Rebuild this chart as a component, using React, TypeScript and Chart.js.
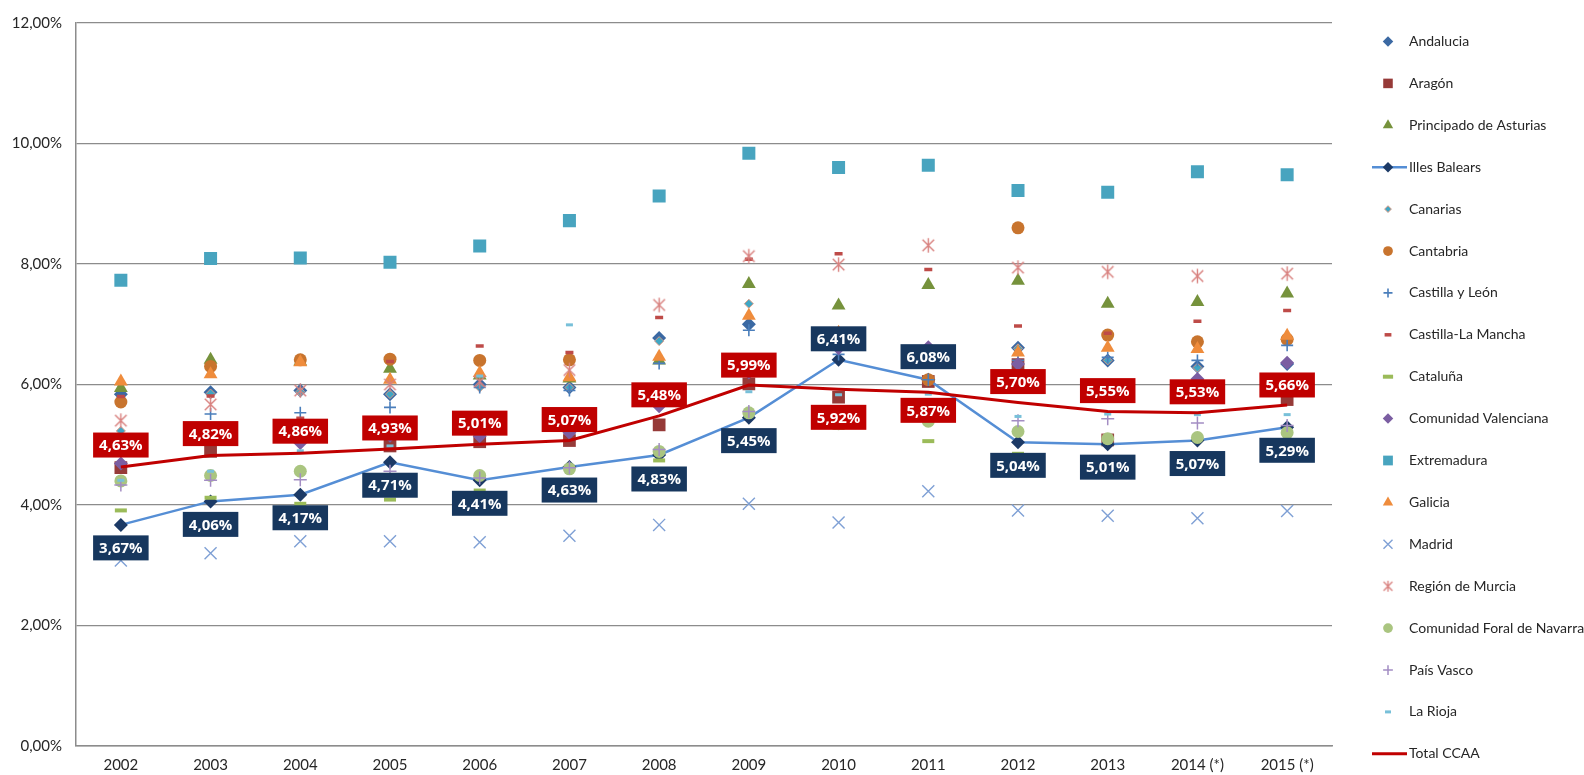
import { useEffect, useRef } from 'react';
import { Chart, registerables } from 'chart.js';
import { drawPoint } from 'chart.js/helpers';

Chart.register(...registerables);

const years = ['2002', '2003', '2004', '2005', '2006', '2007', '2008', '2009', '2010', '2011', '2012', '2013', '2014 (*)', '2015 (*)'];

const andalucia = [5.84, 5.87, 5.90, 5.84, 6.00, 5.95, 6.77, 7.00, 6.75, 6.50, 6.61, 6.40, 6.30, 6.34];
const aragon = [4.62, 4.89, 5.20, 4.98, 5.05, 5.07, 5.33, 6.01, 5.79, 6.05, 6.33, 5.08, 5.85, 5.75];
const asturias = [5.94, 6.41, 6.38, 6.26, 6.15, 6.10, 6.40, 7.67, 7.31, 7.65, 7.72, 7.34, 7.37, 7.51];
const baleares = [3.67, 4.06, 4.17, 4.71, 4.41, 4.63, 4.83, 5.45, 6.41, 6.08, 5.04, 5.01, 5.07, 5.29];
const canarias = [5.23, 5.85, 5.88, 5.84, 5.95, 5.95, 6.72, 7.34, 6.70, 6.40, 6.60, 6.40, 6.28, 6.34];
const cantabria = [5.71, 6.30, 6.41, 6.42, 6.40, 6.41, 5.85, 6.30, 6.70, 6.08, 8.60, 6.82, 6.71, 6.75];
const castillaLeon = [5.00, 5.51, 5.53, 5.62, 5.95, 5.90, 6.35, 6.90, 6.50, 6.08, 6.40, 6.45, 6.40, 6.65];
const castillaMancha = [5.80, 5.81, 5.44, 6.38, 6.64, 6.53, 7.11, 8.08, 8.17, 7.91, 6.97, 6.85, 7.05, 7.23];
const cataluna = [3.91, 4.12, 4.02, 4.09, 4.24, 4.30, 4.74, 5.10, 5.28, 5.06, 4.85, 4.75, 4.80, 4.95];
const valenciana = [4.69, 5.10, 5.03, 5.15, 5.14, 5.20, 5.64, 6.20, 6.60, 6.62, 6.34, 5.90, 6.09, 6.36];
const extremadura = [7.73, 8.09, 8.10, 8.03, 8.30, 8.72, 9.13, 9.84, 9.60, 9.64, 9.22, 9.19, 9.53, 9.48];
const galicia = [6.05, 6.17, 6.37, 6.08, 6.19, 6.12, 6.46, 7.14, 6.86, 6.45, 6.53, 6.61, 6.59, 6.81];
const madrid = [3.08, 3.20, 3.40, 3.40, 3.38, 3.49, 3.67, 4.02, 3.71, 4.23, 3.91, 3.82, 3.78, 3.90];
const murcia = [5.40, 5.67, 5.90, 6.00, 6.05, 6.24, 7.32, 8.13, 7.99, 8.31, 7.94, 7.87, 7.80, 7.84];
const navarra = [4.40, 4.49, 4.56, 4.35, 4.49, 4.60, 4.89, 5.53, 5.35, 5.39, 5.22, 5.10, 5.12, 5.20];
const paisVasco = [4.33, 4.41, 4.42, 4.56, 4.45, 4.62, 4.92, 5.55, 5.50, 5.60, 5.40, 5.43, 5.36, 5.32];
const laRioja = [4.41, 4.56, 4.90, 4.98, 6.14, 6.99, 5.80, 5.88, 5.83, 5.84, 5.47, 5.51, 5.50, 5.50];
const totalCCAA = [4.63, 4.82, 4.86, 4.93, 5.01, 5.07, 5.48, 5.99, 5.92, 5.87, 5.70, 5.55, 5.53, 5.66];

const yTicks = [0, 2, 4, 6, 8, 10, 12];

// label offsets (px, negative = above the point)
const balearesLabelDy = [23, 23, 23, 23, 23, 23, 24, 23, -21, -23, 23, 23, 23, 23];
const totalLabelDy = [-22, -22, -22, -21, -21, -21, -21, -20, 28, 18, -21, -21, -21, -20];

const fmt = (v: number) => v.toFixed(2).replace('.', ',') + '%';

type S = {
  label: string; data: number[]; style: string; color: string; radius: number;
  bw: number; border?: string; line?: string; lineWidth?: number;
};

const series: S[] = [
  { label: 'Andalucia', data: andalucia, style: 'rectRot', color: '#3B69A3', radius: 7, bw: 0 },
  { label: 'Aragón', data: aragon, style: 'rect', color: '#963A38', radius: 9, bw: 0 },
  { label: 'Principado de Asturias', data: asturias, style: 'triangle', color: '#76923C', radius: 8, bw: 0 },
  { label: 'Illes Balears', data: baleares, style: 'rectRot', color: '#1C3A66', radius: 7, bw: 0, line: '#558ED5', lineWidth: 2.5 },
  { label: 'Canarias', data: canarias, style: 'rectRot', color: '#3FA6C4', radius: 4.5, bw: 1, border: '#D99A84' },
  { label: 'Cantabria', data: cantabria, style: 'circle', color: '#C8742E', radius: 6.5, bw: 0 },
  { label: 'Castilla y León', data: castillaLeon, style: 'cross', color: '#4A7EBB', radius: 6, bw: 1.6 },
  { label: 'Castilla-La Mancha', data: castillaMancha, style: 'line', color: '#BE4B48', radius: 4, bw: 3.5 },
  { label: 'Cataluña', data: cataluna, style: 'line', color: '#9BBB59', radius: 6, bw: 4 },
  { label: 'Comunidad Valenciana', data: valenciana, style: 'rectRot', color: '#7B5EA2', radius: 7, bw: 0 },
  { label: 'Extremadura', data: extremadura, style: 'rect', color: '#48A4BF', radius: 9.2, bw: 0 },
  { label: 'Galicia', data: galicia, style: 'triangle', color: '#EF8C3C', radius: 8, bw: 0 },
  { label: 'Madrid', data: madrid, style: 'crossRot', color: '#7FA0D5', radius: 8.5, bw: 1.4 },
  { label: 'Región de Murcia', data: murcia, style: 'asterisk', color: '#D8807E', radius: 7.5, bw: 1.4 },
  { label: 'Comunidad Foral de Navarra', data: navarra, style: 'circle', color: '#AAC580', radius: 6.5, bw: 0 },
  { label: 'País Vasco', data: paisVasco, style: 'cross', color: '#A38DC3', radius: 6.5, bw: 1.5 },
  { label: 'La Rioja', data: laRioja, style: 'line', color: '#78C0D9', radius: 3.5, bw: 3 },
  { label: 'Total CCAA', data: totalCCAA, style: 'circle', color: '#C00000', radius: 0, bw: 0, line: '#C00000', lineWidth: 3 },
];

const FONT = 'Lato, "Open Sans", sans-serif';
const STROKE_STYLES = ['cross', 'crossRot', 'star', 'line'];

function makeAsterisk(size: number, color: string, lw: number): HTMLCanvasElement {
  const c = document.createElement('canvas');
  c.width = size;
  c.height = size;
  const g = c.getContext('2d') as CanvasRenderingContext2D;
  const m = size / 2;
  const a = size * 0.34;
  g.strokeStyle = color;
  g.lineWidth = lw;
  g.beginPath();
  g.moveTo(m - a, m - a); g.lineTo(m + a, m + a);
  g.moveTo(m + a, m - a); g.lineTo(m - a, m + a);
  g.moveTo(m, m - a * 1.25); g.lineTo(m, m + a * 1.25);
  g.stroke();
  return c;
}

export default function App() {
  const ref = useRef<HTMLCanvasElement | null>(null);
  useEffect(() => {
    document.body.style.margin = '0';
    const canvas = ref.current;
    if (!canvas) return;
    const asteriskBig = makeAsterisk(17, '#D8807E', 1.4);
    const asteriskSmall = makeAsterisk(13, '#D8807E', 1.3);

    const legendPlugin = {
      id: 'customLegend',
      afterDraw(chart: any) {
        const ctx = chart.ctx as CanvasRenderingContext2D;
        ctx.save();
        series.forEach((s, i) => {
          const y = 41.5 + i * 41.9;
          const mx = 1388;
          if (s.line) {
            ctx.strokeStyle = s.line;
            ctx.lineWidth = s.lineWidth || 2;
            ctx.beginPath();
            ctx.moveTo(1372, y);
            ctx.lineTo(1407, y);
            ctx.stroke();
          }
          if (s.radius > 0) {
            const isStroke = STROKE_STYLES.includes(s.style);
            ctx.fillStyle = s.color;
            ctx.strokeStyle = isStroke ? s.color : (s.border || s.color);
            const bw = s.bw || 0;
            ctx.lineWidth = bw;
            const r = s.style === 'line' ? s.radius * 0.85 : s.radius * 0.75;
            const ps = s.style === 'asterisk' ? asteriskSmall : s.style;
            drawPoint(ctx, { pointStyle: ps as any, radius: r, borderWidth: bw, rotation: 0 } as any, mx, y);
          }
          ctx.fillStyle = '#262626';
          ctx.font = '14px ' + FONT;
          ctx.textAlign = 'left';
          ctx.textBaseline = 'middle';
          ctx.fillText(s.label, 1409, y);
        });
        ctx.restore();
      },
    };

    const labelPlugin = {
      id: 'boxLabels',
      afterDatasetsDraw(chart: any) {
        const ctx = chart.ctx as CanvasRenderingContext2D;
        const specs = [
          { idx: 3, bg: '#17375E', dy: balearesLabelDy },
          { idx: 17, bg: '#C00000', dy: totalLabelDy },
        ];
        ctx.save();
        ctx.font = 'bold 15px "Open Sans", sans-serif';
        ctx.textAlign = 'center';
        ctx.textBaseline = 'middle';
        specs.forEach((sp) => {
          const meta = chart.getDatasetMeta(sp.idx);
          const data = chart.data.datasets[sp.idx].data as number[];
          meta.data.forEach((pt: any, j: number) => {
            const text = fmt(data[j]);
            const w = ctx.measureText(text).width + 12;
            const h = 25;
            const cx = pt.x;
            const cy = pt.y + sp.dy[j];
            ctx.fillStyle = sp.bg;
            ctx.fillRect(cx - w / 2, cy - h / 2, w, h);
            ctx.fillStyle = '#FFFFFF';
            ctx.fillText(text, cx, cy + 1);
          });
        });
        ctx.restore();
      },
    };

    const datasets = series.map((s, i) => {
      const isStroke = STROKE_STYLES.includes(s.style);
      return {
        label: s.label,
        data: s.data,
        showLine: !!s.line,
        borderColor: s.line || s.color,
        borderWidth: s.lineWidth || 0,
        backgroundColor: s.color,
        pointStyle: s.style === 'asterisk' ? asteriskBig : s.style,
        pointRadius: s.radius,
        pointBackgroundColor: s.color,
        pointBorderColor: isStroke ? s.color : (s.border || s.color),
        pointBorderWidth: s.bw,
        tension: 0,
        fill: false,
        order: 100 - i,
      };
    });
    const chart = new Chart(canvas, {
      type: 'line',
      data: { labels: years, datasets: datasets as any },
      options: {
        animation: false,
        responsive: false,
        events: [],
        layout: { padding: { top: 20, right: 252, left: 0, bottom: 0 } },
        plugins: { legend: { display: false }, tooltip: { enabled: false } },
        scales: {
          x: {
            type: 'category',
            offset: true,
            grid: { display: false, drawTicks: false },
            border: { display: true, color: '#8C8C8C', width: 1.5 },
            ticks: { color: '#262626', font: { family: FONT, size: 15 }, padding: 10, maxRotation: 0, autoSkip: false },
            afterFit: (scale: any) => { scale.height = 29; },
          },
          y: {
            min: 0,
            max: 12,
            afterBuildTicks: (scale: any) => { scale.ticks = yTicks.map((v) => ({ value: v })); },
            grid: { color: '#8C8C8C', lineWidth: 1.2, drawTicks: false },
            border: { display: true, color: '#8C8C8C', width: 1.5 },
            ticks: { color: '#262626', font: { family: FONT, size: 15 }, padding: 14, callback: (v: any) => fmt(Number(v)) },
            afterFit: (scale: any) => { scale.width = 76; },
          },
        },
      },
      plugins: [labelPlugin, legendPlugin],
    });
    return () => chart.destroy();
  }, []);
  return (
    <div style={{ width: 1584, height: 775, background: '#fff' }}>
      <canvas ref={ref} width={1584} height={775} style={{ display: 'block' }} />
    </div>
  );
}
